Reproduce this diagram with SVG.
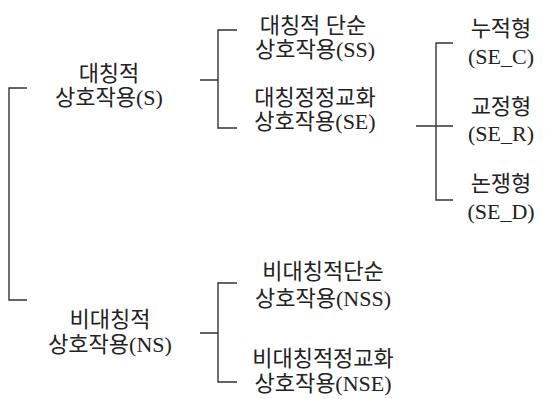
<svg xmlns="http://www.w3.org/2000/svg" width="545" height="399" viewBox="0 0 545 399">
<style>
.t{font-family:"Liberation Serif","Noto Sans CJK KR",serif;font-size:22px;fill:#222;text-anchor:middle}
.c{fill:none;stroke:#333;stroke-width:1.4}
</style>
<rect width="545" height="399" fill="#fff"/>
<g id="connectors" class="c">
<path d="M27,88H9V300H27"/>
<path d="M200,80H218M237,30H218V128H237"/>
<path d="M416,126H453M453,43H436V200H453"/>
<path d="M200,333H218M237,283H218V382H237"/>
</g>
<g id="S"><text class="t" x="109" y="81">대칭적</text><text class="t" x="109" y="105">상호작용(S)</text></g>
<g id="SS"><text class="t" x="313" y="33">대칭적 단순</text><text class="t" x="315" y="57">상호작용(SS)</text></g>
<g id="SE"><text class="t" x="315" y="105">대칭정정교화</text><text class="t" x="315" y="129">상호작용(SE)</text></g>
<g id="SE_C"><text class="t" x="501" y="36">누적형</text><text class="t" x="501" y="64">(SE_C)</text></g>
<g id="SE_R"><text class="t" x="501" y="114">교정형</text><text class="t" x="501" y="141">(SE_R)</text></g>
<g id="SE_D"><text class="t" x="501" y="191">논쟁형</text><text class="t" x="501" y="219">(SE_D)</text></g>
<g id="NS"><text class="t" x="110" y="327">비대칭적</text><text class="t" x="110" y="352">상호작용(NS)</text></g>
<g id="NSS"><text class="t" x="323" y="279">비대칭적단순</text><text class="t" x="323" y="306">상호작용(NSS)</text></g>
<g id="NSE"><text class="t" x="323" y="366">비대칭적정교화</text><text class="t" x="323" y="391">상호작용(NSE)</text></g>
</svg>
